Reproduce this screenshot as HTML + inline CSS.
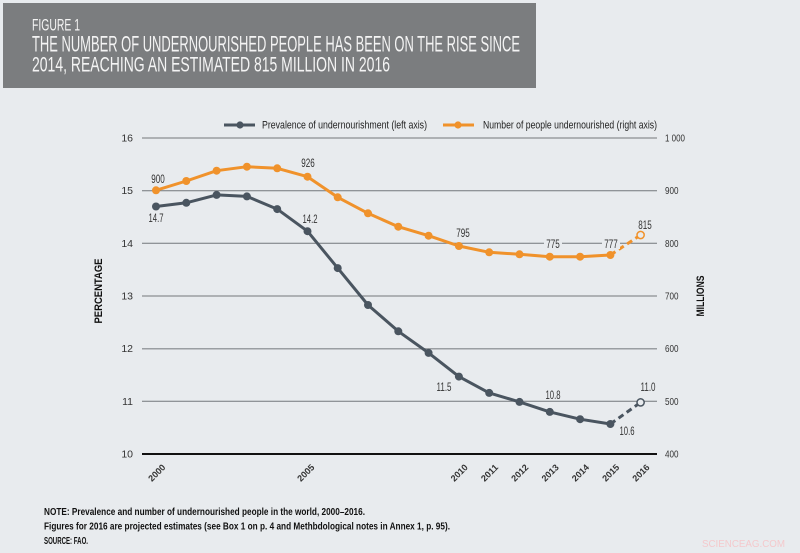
<!DOCTYPE html>
<html><head><meta charset="utf-8">
<style>
html,body{margin:0;padding:0;background:#e8ebee;}
svg{display:block;}
text{font-family:"Liberation Sans Narrow","Liberation Sans",sans-serif;}
</style></head>
<body>
<svg width="800" height="553" viewBox="0 0 800 553" xmlns="http://www.w3.org/2000/svg">
<rect x="0" y="0" width="800" height="553" fill="#e8ebee"/>
<!-- header -->
<rect x="3" y="3" width="533" height="85" fill="#7b7d7f"/>
<text x="32" y="30.7" font-size="16.5" fill="#f4f4f4" textLength="48" lengthAdjust="spacingAndGlyphs">FIGURE 1</text>
<text x="32" y="51.7" font-size="22" fill="#f4f4f4" textLength="488" lengthAdjust="spacingAndGlyphs">THE NUMBER OF UNDERNOURISHED PEOPLE HAS BEEN ON THE RISE SINCE</text>
<text x="32" y="71.7" font-size="21" fill="#f4f4f4" textLength="358" lengthAdjust="spacingAndGlyphs">2014, REACHING AN ESTIMATED 815 MILLION IN 2016</text>

<!-- legend -->
<line x1="224" y1="125" x2="255" y2="125" stroke="#4a5560" stroke-width="3"/>
<circle cx="240" cy="125" r="3.6" fill="#4a5560"/>
<text x="262" y="128.5" font-size="11" fill="#222" textLength="165" lengthAdjust="spacingAndGlyphs">Prevalence of undernourishment  (left axis)</text>
<line x1="443" y1="125" x2="474" y2="125" stroke="#f0922b" stroke-width="3"/>
<circle cx="458" cy="125" r="3.6" fill="#f0922b"/>
<text x="483" y="128.5" font-size="11" fill="#222" textLength="174" lengthAdjust="spacingAndGlyphs">Number of people undernourished (right axis)</text>

<!-- gridlines -->
<g stroke="#73777b" stroke-width="1">
<line x1="142" y1="138" x2="657" y2="138"/>
<line x1="142" y1="190.7" x2="657" y2="190.7"/>
<line x1="142" y1="243.3" x2="657" y2="243.3"/>
<line x1="142" y1="296" x2="657" y2="296"/>
<line x1="142" y1="401.3" x2="657" y2="401.3"/>
</g>
<line x1="142" y1="348.7" x2="657" y2="348.7" stroke="#9a9ea2" stroke-width="1.5"/>
<line x1="142" y1="454" x2="657" y2="454" stroke="#111" stroke-width="2"/>

<!-- left ticks -->
<g font-size="10.5" fill="#333" text-anchor="end">
<text x="133" y="141.5">16</text>
<text x="133" y="194.2">15</text>
<text x="133" y="246.8">14</text>
<text x="133" y="299.5">13</text>
<text x="133" y="352.2">12</text>
<text x="133" y="404.8">11</text>
<text x="133" y="457.5">10</text>
</g>
<!-- right ticks -->
<g font-size="10.5" fill="#333">
<text x="665" y="141.5" textLength="20" lengthAdjust="spacingAndGlyphs">1 000</text>
<text x="665" y="194.2" textLength="13.5" lengthAdjust="spacingAndGlyphs">900</text>
<text x="665" y="246.8" textLength="13.5" lengthAdjust="spacingAndGlyphs">800</text>
<text x="665" y="299.5" textLength="13.5" lengthAdjust="spacingAndGlyphs">700</text>
<text x="665" y="352.2" textLength="13.5" lengthAdjust="spacingAndGlyphs">600</text>
<text x="665" y="404.8" textLength="13.5" lengthAdjust="spacingAndGlyphs">500</text>
<text x="665" y="457.5" textLength="13.5" lengthAdjust="spacingAndGlyphs">400</text>
</g>

<!-- axis titles -->
<text transform="translate(102,291) rotate(-90)" font-size="11" font-weight="bold" fill="#111" text-anchor="middle" textLength="65" lengthAdjust="spacingAndGlyphs">PERCENTAGE</text>
<text transform="translate(704,296) rotate(-90)" font-size="11" font-weight="bold" fill="#111" text-anchor="middle" textLength="41" lengthAdjust="spacingAndGlyphs">MILLIONS</text>

<!-- orange series -->
<polyline fill="none" stroke="#f0922b" stroke-width="3" stroke-linejoin="round"
 points="156,190.3 186.3,181 216.6,170.7 246.9,166.7 277.2,168.3 307.5,176.7 337.7,197.3 368,213.3 398.3,226.7 428.6,235.7 458.9,246 489.2,252.3 519.5,254.3 549.8,256.7 580.1,256.7 610.4,255"/>
<line x1="610.4" y1="255" x2="640.6" y2="235" stroke="#f0922b" stroke-width="3" stroke-dasharray="6,4"/>
<g fill="#f0922b">
<circle cx="156" cy="190.3" r="4"/><circle cx="186.3" cy="181" r="4"/><circle cx="216.6" cy="170.7" r="4"/><circle cx="246.9" cy="166.7" r="4"/><circle cx="277.2" cy="168.3" r="4"/><circle cx="307.5" cy="176.7" r="4"/><circle cx="337.7" cy="197.3" r="4"/><circle cx="368" cy="213.3" r="4"/><circle cx="398.3" cy="226.7" r="4"/><circle cx="428.6" cy="235.7" r="4"/><circle cx="458.9" cy="246" r="4"/><circle cx="489.2" cy="252.3" r="4"/><circle cx="519.5" cy="254.3" r="4"/><circle cx="549.8" cy="256.7" r="4"/><circle cx="580.1" cy="256.7" r="4"/><circle cx="610.4" cy="255" r="4"/>
</g>
<circle cx="640.6" cy="235" r="3.6" fill="#e8ebee" stroke="#f0922b" stroke-width="1.5"/>

<!-- grey series -->
<polyline fill="none" stroke="#4a5560" stroke-width="3" stroke-linejoin="round"
 points="156,206.5 186.3,202.8 216.6,194.9 246.9,196.4 277.2,209.1 307.5,231.2 337.7,268.1 368,305 398.3,331.3 428.6,352.9 458.9,376.6 489.2,392.9 519.5,401.9 549.8,411.9 580.1,419.2 610.4,424"/>
<line x1="610.4" y1="424" x2="640.6" y2="402.4" stroke="#4a5560" stroke-width="3" stroke-dasharray="6,4"/>
<g fill="#4a5560">
<circle cx="156" cy="206.5" r="4"/><circle cx="186.3" cy="202.8" r="4"/><circle cx="216.6" cy="194.9" r="4"/><circle cx="246.9" cy="196.4" r="4"/><circle cx="277.2" cy="209.1" r="4"/><circle cx="307.5" cy="231.2" r="4"/><circle cx="337.7" cy="268.1" r="4"/><circle cx="368" cy="305" r="4"/><circle cx="398.3" cy="331.3" r="4"/><circle cx="428.6" cy="352.9" r="4"/><circle cx="458.9" cy="376.6" r="4"/><circle cx="489.2" cy="392.9" r="4"/><circle cx="519.5" cy="401.9" r="4"/><circle cx="549.8" cy="411.9" r="4"/><circle cx="580.1" cy="419.2" r="4"/><circle cx="610.4" cy="424" r="4"/>
</g>
<circle cx="640.6" cy="402.4" r="3.6" fill="#e8ebee" stroke="#4a5560" stroke-width="1.5"/>

<!-- data labels -->
<rect x="544" y="238" width="18" height="11" fill="#e8ebee"/>
<rect x="602" y="238" width="18" height="11" fill="#e8ebee"/>
<g font-size="11.5" fill="#333" text-anchor="middle">
<text x="158" y="183" textLength="13.5" lengthAdjust="spacingAndGlyphs">900</text>
<text x="308" y="167" textLength="13.5" lengthAdjust="spacingAndGlyphs">926</text>
<text x="156" y="222" textLength="15" lengthAdjust="spacingAndGlyphs">14.7</text>
<text x="310" y="223" textLength="15" lengthAdjust="spacingAndGlyphs">14.2</text>
<text x="463" y="237" textLength="13.5" lengthAdjust="spacingAndGlyphs">795</text>
<text x="553" y="248" textLength="13.5" lengthAdjust="spacingAndGlyphs">775</text>
<text x="611" y="248" textLength="13.5" lengthAdjust="spacingAndGlyphs">777</text>
<text x="645" y="229" textLength="13.5" lengthAdjust="spacingAndGlyphs">815</text>
<text x="444" y="391" textLength="15" lengthAdjust="spacingAndGlyphs">11.5</text>
<text x="553" y="399" textLength="15" lengthAdjust="spacingAndGlyphs">10.8</text>
<text x="627" y="435" textLength="15" lengthAdjust="spacingAndGlyphs">10.6</text>
<text x="648" y="391" textLength="15" lengthAdjust="spacingAndGlyphs">11.0</text>
</g>

<!-- x labels -->
<g font-size="9" fill="#333" font-weight="bold" text-anchor="middle">
<text transform="translate(159,475) rotate(-45)" textLength="20" lengthAdjust="spacingAndGlyphs">2000</text>
<text transform="translate(308,475) rotate(-45)" textLength="20" lengthAdjust="spacingAndGlyphs">2005</text>
<text transform="translate(461.4,475) rotate(-45)" textLength="20" lengthAdjust="spacingAndGlyphs">2010</text>
<text transform="translate(491.7,475) rotate(-45)" textLength="20" lengthAdjust="spacingAndGlyphs">2011</text>
<text transform="translate(522,475) rotate(-45)" textLength="20" lengthAdjust="spacingAndGlyphs">2012</text>
<text transform="translate(552.3,475) rotate(-45)" textLength="20" lengthAdjust="spacingAndGlyphs">2013</text>
<text transform="translate(582.6,475) rotate(-45)" textLength="20" lengthAdjust="spacingAndGlyphs">2014</text>
<text transform="translate(612.9,475) rotate(-45)" textLength="20" lengthAdjust="spacingAndGlyphs">2015</text>
<text transform="translate(643.1,475) rotate(-45)" textLength="20" lengthAdjust="spacingAndGlyphs">2016</text>
</g>

<!-- notes -->
<g font-size="10" fill="#111" font-weight="bold">
<text x="44" y="515" textLength="321" lengthAdjust="spacingAndGlyphs">NOTE: Prevalence and number of undernourished people in the world, 2000–2016.</text>
<text x="44" y="529.7" textLength="406" lengthAdjust="spacingAndGlyphs">Figures for 2016 are projected estimates (see Box 1 on p. 4 and Methbdological notes in Annex 1, p. 95).</text>
<text x="44" y="544" textLength="44" lengthAdjust="spacingAndGlyphs">SOURCE: FAO.</text>
</g>

<text x="702" y="547" font-size="10" fill="#f4c9cc" font-family="Liberation Sans, sans-serif" textLength="83" lengthAdjust="spacingAndGlyphs">SCIENCEAG.COM</text>
</svg>
</body></html>
